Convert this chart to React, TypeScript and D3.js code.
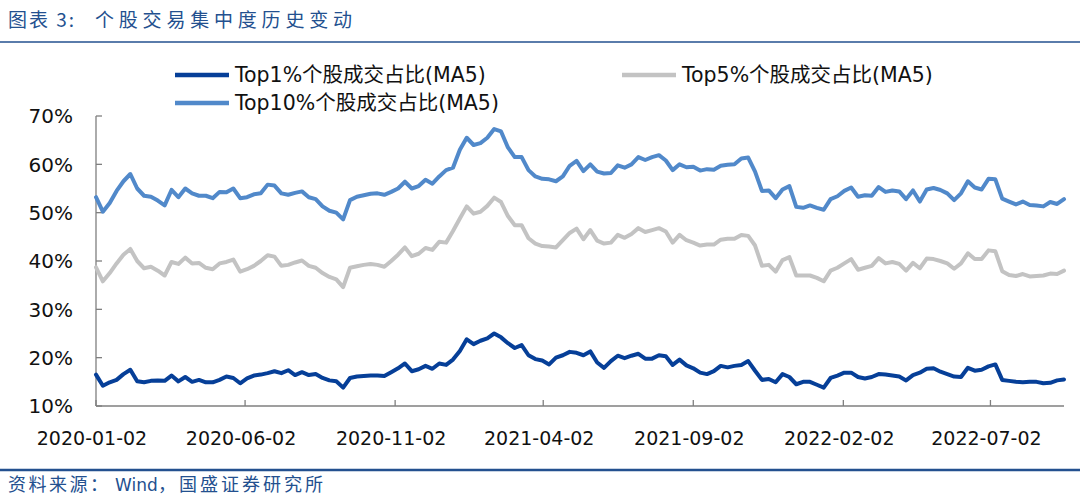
import * as d3 from 'd3';

// weekly samples, starting 2020-01-02
const startDate = new Date(2020, 0, 2);

const top1 = [
  16.5, 14.2, 14.9, 15.4, 16.6, 17.5, 15.1, 14.9, 15.2, 15.3, 15.2, 16.3, 15.1, 16.0, 15.0, 15.4, 14.9, 14.9, 15.4, 16.1,
  15.8, 14.7, 15.7, 16.3, 16.5, 16.8, 17.2, 16.8, 17.4, 16.4, 17.0, 16.4, 16.6, 15.8, 15.3, 15.1, 13.8, 15.8, 16.1, 16.2,
  16.3, 16.3, 16.2, 17.0, 17.8, 18.8, 17.2, 17.6, 18.3, 17.7, 18.8, 18.5, 19.6, 21.4, 23.8, 22.8, 23.5, 24.0, 25.0, 24.2,
  23.0, 22.0, 22.6, 20.5, 19.7, 19.4, 18.6, 20.0, 20.5, 21.2, 21.0, 20.5, 21.3, 19.0, 17.9, 19.3, 20.4, 19.9, 20.4, 20.8,
  19.8, 19.8, 20.5, 20.3, 18.5, 19.6, 18.4, 17.8, 16.9, 16.6, 17.2, 18.3, 18.0, 18.3, 18.5, 19.3, 17.3, 15.4, 15.6, 14.9,
  16.6, 16.0, 14.5, 15.0, 15.0, 14.4, 13.8, 15.8, 16.3, 16.9, 16.9, 16.0, 15.7, 16.0, 16.6, 16.5, 16.3, 16.1, 15.3, 16.4,
  16.9, 17.7, 17.8, 17.1, 16.6, 16.1, 16.0, 17.9, 17.3, 17.5, 18.2, 18.6, 15.4, 15.2, 15.0, 14.9, 15.0, 15.0, 14.7, 14.8,
  15.3, 15.5,
];

const top5 = [
  38.7, 35.8, 37.5, 39.5, 41.3, 42.5, 40.0, 38.5, 38.8, 38.0, 37.0, 39.8, 39.4, 40.7, 39.5, 39.6, 38.6, 38.3, 39.5, 39.8,
  40.3, 37.8, 38.3, 39.0, 40.0, 41.2, 40.9, 39.0, 39.2, 39.7, 40.1, 39.0, 38.6, 37.5, 36.7, 36.2, 34.6, 38.6, 38.9, 39.2,
  39.4, 39.2, 38.8, 40.0, 41.3, 42.8, 41.0, 41.5, 42.7, 42.3, 44.0, 43.8, 46.2, 48.8, 51.3, 49.8, 50.2, 51.4, 53.1, 52.2,
  49.3, 47.4, 47.4, 44.7, 43.6, 43.1, 43.0, 42.8, 44.3, 45.8, 46.7, 44.5, 46.4, 44.2, 43.6, 43.8, 45.4, 44.8, 45.6, 46.8,
  46.0, 46.4, 46.8, 46.1, 43.8, 45.4, 44.3, 43.8, 43.2, 43.4, 43.4, 44.4, 44.6, 44.6, 45.4, 45.2, 43.2, 39.0, 39.2, 37.8,
  40.2, 40.8, 37.0, 37.0, 37.0, 36.5, 35.8, 38.0, 38.6, 39.5, 40.4, 38.2, 38.6, 39.0, 40.6, 39.5, 39.8, 39.4, 38.0, 39.6,
  38.5, 40.5, 40.4, 40.0, 39.5, 38.4, 39.5, 41.6, 40.4, 40.4, 42.2, 42.0, 37.9, 37.1, 36.9, 37.3, 36.8, 36.9, 37.0, 37.4,
  37.3, 38.0,
];

const top10 = [
  53.2, 50.2, 52.0, 54.5, 56.5, 58.0, 55.0, 53.5, 53.3, 52.5, 51.5, 54.7, 53.2, 55.0, 54.0, 53.5, 53.5, 53.0, 54.3, 54.2,
  55.0, 53.0, 53.2, 53.8, 54.0, 55.8, 55.6, 54.0, 53.7, 54.1, 54.4, 53.2, 52.8, 51.3, 50.4, 50.0, 48.6, 52.6, 53.3, 53.6,
  53.9, 54.0, 53.7, 54.3, 55.0, 56.4, 55.0, 55.5, 56.8, 56.0, 57.5, 58.8, 59.3, 63.0, 65.5, 64.0, 64.4, 65.5, 67.3, 66.8,
  63.5, 61.5, 61.5, 58.8, 57.5, 57.0, 56.9, 56.5, 57.5, 59.7, 60.7, 58.6, 60.0, 58.5, 58.1, 58.2, 59.8, 59.3, 60.0, 61.5,
  60.9, 61.5, 61.9, 60.8, 58.8, 60.0, 59.4, 59.5, 58.7, 59.0, 58.9, 59.7, 59.9, 60.0, 61.2, 61.4, 58.5, 54.5, 54.6, 53.0,
  54.8, 55.5, 51.2, 51.0, 51.5, 51.0, 50.6, 52.8, 53.4, 54.5, 55.2, 53.3, 53.6, 53.5, 55.3, 54.3, 54.6, 54.4, 52.8, 54.6,
  52.3, 54.8, 55.1, 54.7, 54.0, 52.6, 54.0, 56.5, 55.2, 54.8, 57.0, 56.9, 52.9, 52.3, 51.7, 52.3, 51.6, 51.5, 51.3, 52.2,
  51.8, 52.8,
];

const dates = top1.map((_, i) => d3.timeDay.offset(startDate, i * 7));

const xTickLabels = ['2020-01-02', '2020-06-02', '2020-11-02', '2021-04-02', '2021-09-02', '2022-02-02', '2022-07-02'];
const yTicks = [10, 20, 30, 40, 50, 60, 70];

const seriesNames = ['Top1%个股成交占比(MA5)', 'Top5%个股成交占比(MA5)', 'Top10%个股成交占比(MA5)'];
const seriesColors = ['#063f98', '#c3c3c3', '#5189ca'];

const W = 1080;
const H = 503;
const plot = { left: 96, right: 1064, top: 116, bottom: 406 };
const blue = '#23508f';
const latin = '"DejaVu Sans", Verdana, sans-serif';
const cjk = '"Noto Sans CJK SC", sans-serif';

export default function App() {
  const parse = d3.timeParse('%Y-%m-%d');
  const x = d3
    .scaleTime()
    .domain([startDate, dates[dates.length - 1]])
    .range([plot.left, plot.right]);
  const y = d3.scaleLinear().domain([10, 70]).range([plot.bottom, plot.top]);

  const line = d3
    .line<number>()
    .x((_, i) => x(dates[i]))
    .y((d) => y(d));

  const allSeries = [top1, top5, top10];
  const legend = [
    { x: 175, y: 75 },
    { x: 622, y: 75 },
    { x: 175, y: 103 },
  ];

  return (
    <svg
      width={W}
      height={H}
      style={{ position: 'absolute', left: 0, top: 0, background: '#fff' }}
    >
      {/* title */}
      <text x={8} y={27} fill={blue} fontSize={19} fontFamily={cjk} letterSpacing={2}>
        图表 3:
      </text>
      <text x={95} y={27} fill={blue} fontSize={19} fontFamily={cjk} letterSpacing={4.8}>
        个股交易集中度历史变动
      </text>
      <line x1={0} x2={W} y1={42} y2={42} stroke={blue} strokeWidth={1.5} />

      {/* legend */}
      {seriesNames.map((name, i) => (
        <g key={name}>
          <line
            x1={legend[i].x}
            x2={legend[i].x + 54}
            y1={legend[i].y}
            y2={legend[i].y}
            stroke={seriesColors[i]}
            strokeWidth={4.5}
          />
          <text
            x={legend[i].x + 60}
            y={legend[i].y + 7}
            fontSize={20.5}
            fill="#111"
            fontFamily={`${latin.split(',')[0]}, ${cjk}`}
          >
            {name}
          </text>
        </g>
      ))}

      {/* axes */}
      <line x1={plot.left} x2={plot.left} y1={plot.top} y2={plot.bottom} stroke="#7f7f7f" strokeWidth={1.3} />
      <line x1={plot.left} x2={plot.right} y1={plot.bottom} y2={plot.bottom} stroke="#7f7f7f" strokeWidth={1.3} />
      {yTicks.map((t) => (
        <g key={t}>
          <line x1={plot.left} x2={plot.left + 6} y1={y(t)} y2={y(t)} stroke="#7f7f7f" strokeWidth={1.3} />
          <text
            x={73}
            y={y(t)}
            dy="0.36em"
            textAnchor="end"
            fontSize={20}
            fontFamily={latin}
            fill="#111"
          >
            {t}%
          </text>
        </g>
      ))}
      {xTickLabels.map((lbl) => {
        const px = x(parse(lbl) as Date);
        return (
          <g key={lbl}>
            <line x1={px} x2={px} y1={plot.bottom} y2={plot.bottom - 6} stroke="#7f7f7f" strokeWidth={1.3} />
            <text x={px - 4} y={445} textAnchor="middle" fontSize={19} fontFamily={latin} fill="#111">
              {lbl}
            </text>
          </g>
        );
      })}

      {/* series */}
      {allSeries.map((s, i) => (
        <path
          key={seriesNames[i]}
          d={line(s) ?? ''}
          fill="none"
          stroke={seriesColors[i]}
          strokeWidth={4}
          strokeLinejoin="round"
          strokeLinecap="round"
        />
      ))}

      {/* source */}
      <line x1={0} x2={W} y1={470} y2={470} stroke={blue} strokeWidth={2.5} />
      <text y={491} fill={blue} fontSize={18}>
        <tspan x={8} fontFamily={cjk} letterSpacing={2.5}>
          资料来源：
        </tspan>
        <tspan x={115} fontFamily={latin} fontSize={17}>
          Wind
        </tspan>
        <tspan x={158} fontFamily={cjk} letterSpacing={3}>
          ，国盛证券研究所
        </tspan>
      </text>
    </svg>
  );
}
